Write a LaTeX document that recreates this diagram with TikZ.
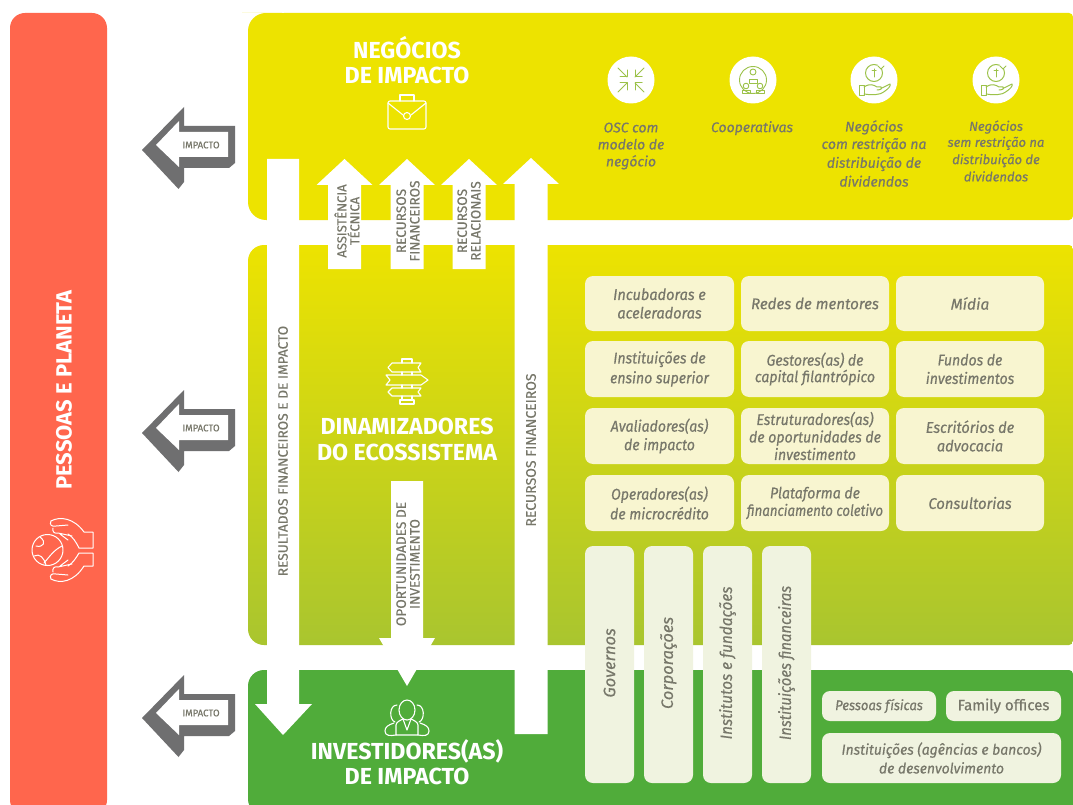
\documentclass[tikz,border=0pt]{standalone}
\usepackage{fontspec}
\usepackage{graphicx}
\setmainfont{Fira Sans}
\newfontfamily\cf{Fira Sans}[ItalicFeatures={FakeBold=0.5,FakeStretch=0.91}]
\newfontfamily\cg{Fira Sans}[ItalicFeatures={FakeBold=0.5},UprightFeatures={FakeBold=0.7}]
\newfontfamily\lbl{Fira Sans}[UprightFeatures={FakeBold=0.3}]
\usetikzlibrary{calc}
\definecolor{redp}{HTML}{FF664D}
\definecolor{yelp}{HTML}{EDE300}
\definecolor{midb}{HTML}{A9C52F}
\definecolor{grnp}{HTML}{50AC3A}
\definecolor{cella}{HTML}{F8F5D0}
\definecolor{cellb}{HTML}{F0F3E0}
\definecolor{txt}{HTML}{77776A}
\definecolor{arrowg}{HTML}{6F6F70}
\definecolor{icong}{HTML}{9CC24A}
\newcommand{\fs}[1]{\fontsize{#1}{#1}\selectfont}
\newcommand{\sq}[2]{\scalebox{#1}[1]{#2}}
\tikzset{
 x=1pt,y=-1pt,
 cell/.style={rounded corners=8pt,fill=cella},
 vcell/.style={rounded corners=8pt,fill=cellb},
 celltxt/.style={text=txt,align=center,font=\cf\fs{15.5}\itshape,inner sep=0pt},
 toptxt/.style={text=txt,align=center,inner sep=0pt},
 head/.style={text=white,align=center,inner sep=0pt,font=\fs{23.2}\bfseries},
 arrowtxt/.style={text=txt,align=center,inner sep=0pt,rotate=90},
 whiteicon/.style={draw=white,line width=1.1pt,line join=round,line cap=round},
 greenicon/.style={draw=icong,line width=1pt,line join=round,line cap=round},
}
\newcommand{\uparr}[3]{\fill[white] (#1,#2) -- ({#1+28},{#2+26}) -- ({#1+16.5},{#2+26}) -- ({#1+16.5},#3) -- ({#1-16.5},#3) -- ({#1-16.5},{#2+26}) -- ({#1-28},{#2+26}) -- cycle;}
\newcommand{\impact}[2]{%
 \begin{scope}[yshift=-#1pt]
  \fill[arrowg] (142,150) -- (184,107) -- (184,126) -- (235,126) -- (235,163) -- (229,168) -- (184,168) -- (184,182) -- (178.5,189) -- cycle;
  \fill[white] (156,145) -- (179,121) -- (179,132) -- (228,132) -- (228,157) -- (179,157) -- (179,167) -- cycle;
  \node[text=txt,inner sep=0pt,font=\lbl\fs{9.6}] (#2) at (201,145) {IMPACTO};
 \end{scope}}
\newcommand{\handcoin}[1]{%
 \begin{scope}[shift={(#1,80)}]
  \draw[greenicon] (0,-7) circle (8.5);
  \draw[white,line width=2.5pt] (4,-15) -- (8,-12);
  \draw[greenicon] (7,-11) -- (4,-14) (7,-11) -- (10,-14);
  \draw[greenicon] (0,-11) -- (0,-3) (-2,-9) -- (2,-9);
  \draw[greenicon] (-15,6) rectangle (-10,16);
  \draw[greenicon] (-10,7) .. controls (-4,3) and (0,5) .. (3,7) -- (7,7) .. controls (9,8) and (7,10) .. (3,10) (8,8) -- (16,4) .. controls (17,6) and (14,9) .. (11,11) .. controls (5,16) and (-3,15) .. (-10,14);
 \end{scope}}
\begin{document}
\begin{tikzpicture}
\useasboundingbox (0,0) rectangle (1073,805);
\clip (0,0) rectangle (1073,805);
\fill[white] (0,0) rectangle (1073,805);
% panels
\fill[redp,rounded corners=15pt] (10,13) rectangle (107,815);
\fill[yelp,rounded corners=18pt] (260,13) -- (248,13) -- (248,220) -- (300,220) -- (300,13) -- cycle;
\fill[yelp,rounded corners=4pt] (280,13) -- (1073,13) -- (1073,220) -- (280,220) -- cycle;
\shade[top color=yelp,bottom color=midb,rounded corners=16pt] (300,245) -- (248,245) -- (248,645) -- (300,645) -- cycle;
\shade[top color=yelp,bottom color=midb,rounded corners=4pt] (280,245) -- (1073,245) -- (1073,645) -- (280,645) -- cycle;
\fill[grnp,rounded corners=16pt] (300,670) -- (248,670) -- (248,815) -- (300,815) -- cycle;
\fill[grnp,rounded corners=4pt] (280,670) -- (1073,670) -- (1073,815) -- (280,815) -- cycle;
% block arrows
\fill[white] (267,159) -- (299,159) -- (299,704) -- (312,704) -- (283,735) -- (255,704) -- (267,704) -- cycle;
\uparr{531}{158}{734}
\uparr{344.5}{159}{269}
\uparr{407}{159}{269}
\uparr{469}{159}{269}
\fill[white] (391,481) -- (423,481) -- (423,638) -- (435,638) -- (407,686) -- (379,638) -- (391,638) -- cycle;
% impact arrows
\impact{0}{imp1}
\impact{283}{imp2}
\impact{568}{imp3}
% headers
\node[head] (neg) at (407,60.5) {NEGÓCIOS\\[2pt]DE IMPACTO};
\node[head] (din) at (407,439.5) {DINAMIZADORES\\[2pt]DO ECOSSISTEMA};
\node[head] (inv) at (407,762.5) {INVESTIDORES(AS)\\[2pt]DE IMPACTO};
\node[text=white,inner sep=0pt,rotate=90,font=\fs{22}\bfseries] (pp) at (64,390) {PESSOAS E PLANETA};
% arrow labels
\node[arrowtxt,font=\lbl\fs{13}] (a1) at (347,221) {ASSISTÊNCIA\\[0pt]TÉCNICA};
\node[arrowtxt,font=\lbl\fs{13.6}] (a2) at (408,221) {RECURSOS\\[0pt]FINANCEIROS};
\node[arrowtxt,font=\lbl\fs{13.6}] (a3) at (469,221) {RECURSOS\\[0pt]RELACIONAIS};
\node[arrowtxt,font=\lbl\fs{13.7}] (a4) at (283,451) {RESULTADOS FINANCEIROS E DE IMPACTO};
\node[arrowtxt,font=\lbl\fs{14}] (a5) at (531,450) {RECURSOS FINANCEIROS};
\node[arrowtxt,font=\lbl\fs{13.7}] (a6) at (408,564) {OPORTUNIDADES DE\\[0pt]INVESTIMENTO};
% top circles
\foreach \cx in {631,753,874,996} \fill[white] (\cx,80) circle (23.5);
\node[toptxt,font=\cg\fs{14}\itshape] (t1) at (631,146) {OSC com\\[3pt]modelo de\\[3pt]negócio};
\node[toptxt,font=\cg\fs{14}\itshape,anchor=north] (t2) at (752,121) {Cooperativas};
\node[toptxt,font=\cg\fs{14}\itshape] (t3) at (874,153.5) {Negócios\\[3.5pt]com restrição na\\[3.5pt]distribuição de\\[3.5pt]dividendos};
\node[toptxt,font=\cg\fs{13}\itshape] (t4) at (996,151) {Negócios\\[3pt]sem restrição na\\[3pt]distribuição de\\[3pt]dividendos};
% grid
\newcommand{\gcell}[6]{\fill[cell] (#1,#3) rectangle (#2,#4); \node[celltxt] (#5) at ({(#1+#2)/2},{(#3+#4)/2}) {#6};}
\gcell{585}{734}{276}{331}{c11}{\sq{1.03}{Incubadoras e}\\[3pt]\sq{1.03}{aceleradoras}}
\gcell{741}{889}{276}{331}{c12}{\sq{1.07}{Redes de mentores}}
\gcell{896}{1044}{276}{331}{c13}{\sq{1.1}{Mídia}}
\gcell{585}{734}{341}{397}{c21}{Instituições de\\[3pt]ensino superior}
\gcell{741}{889}{341}{397}{c22}{Gestores(as) de\\[1pt]capital filantrópico}
\gcell{896}{1044}{341}{397}{c23}{Fundos de\\[3pt]investimentos}
\gcell{585}{734}{408}{464}{c31}{Avaliadores(as)\\[3pt]de impacto}
\gcell{741}{889}{408}{464}{c32}{Estruturadores(as)\\[2pt]de oportunidades de\\[2pt]investimento}
\gcell{896}{1044}{408}{464}{c33}{\sq{1.03}{Escritórios de}\\[3pt]\sq{1.03}{advocacia}}
\gcell{585}{734}{475}{531}{c41}{Operadores(as)\\[3pt]de microcrédito}
\gcell{741}{889}{475}{531}{c42}{Plataforma de\\[2pt]\sq{.94}{financiamento coletivo}}
\gcell{896}{1044}{475}{531}{c43}{\sq{1.05}{Consultorias}}
% vertical cells
\newcommand{\vcellb}[5]{\fill[vcell] (#1,546) rectangle (#2,783); \node[toptxt,rotate=90,font=\cg\fs{16.5}\itshape] (#3) at ({(#1+#2)/2},663) {\sq{#4}{#5}};}
\vcellb{585}{634}{v1}{1}{Governos}
\vcellb{644}{693}{v2}{1}{Corporações}
\vcellb{703}{752}{v3}{.93}{Institutos e fundações}
\vcellb{762}{811}{v4}{.9}{Instituições financeiras}
\fill[vcell] (822,691) rectangle (936,721);
\node[toptxt,font=\cg\fs{14}\itshape] (p1) at (879,706) {\sq{.93}{Pessoas físicas}};
\fill[vcell] (946,691) rectangle (1061,721);
\node[toptxt,font=\cg\fs{15}] (p2) at (1003.5,706) {Family offices};
\fill[vcell] (822,733) rectangle (1061,783);
\node[toptxt,font=\cg\fs{14.5}\itshape] (p3) at (941.5,758) {\sq{.96}{Instituições (agências e bancos)}\\[3pt]\sq{.96}{de desenvolvimento}};
% briefcase
\draw[whiteicon] (388,101) [rounded corners=2pt] -- (426,101) -- (426,129) -- (388,129) -- cycle;
\draw[whiteicon] (400,101) -- (400,95) -- (414,95) -- (414,101);
\draw[whiteicon] (388,103) -- (403,115) (411,115) -- (426,103);
\draw[whiteicon] (407,116) circle (3.5);
% signpost
\begin{scope}[whiteicon]
 \draw (392,363) -- (421,363) -- (418,367.5) -- (421,372) -- (392,372) -- (388,367.5) -- cycle;
 \draw (386,375) -- (421,375) -- (428,380) -- (421,385) -- (386,385) -- (390,380) -- cycle;
 \draw (392,388) -- (421,388) -- (418,392) -- (421,396) -- (392,396) -- (388,392) -- cycle;
 \draw (402,363) -- (402,359) -- (412,359) -- (412,363);
 \draw (402,372) -- (402,375) (412,372) -- (412,375) (402,385) -- (402,388) (412,385) -- (412,388) (402,396) -- (402,400) (412,396) -- (412,400);
 \draw (400,400) rectangle (414,404);
\end{scope}
% people
\begin{scope}[whiteicon]
 \draw (407,710) ellipse (8 and 10);
 \draw (397,705) .. controls (389,705) and (389,720) .. (395,722);
 \draw (417,705) .. controls (425,705) and (425,720) .. (419,722);
 \draw (396,735) -- (396,725) .. controls (396,722) and (401,720) .. (403,719) -- (407,730) -- (411,719) .. controls (413,720) and (418,722) .. (418,725) -- (418,735) -- cycle;
 \draw (394,723) .. controls (388,725) and (385,727) .. (385,731) .. controls (385,736) and (390,736) .. (396,735);
 \draw (420,723) .. controls (426,725) and (429,727) .. (429,731) .. controls (429,736) and (424,736) .. (418,735);
\end{scope}
% hands and globe
\begin{scope}[whiteicon,line width=1pt]
 \draw (47.5,550) circle (15.5);
 \draw (40,537) .. controls (47,542) and (43,548) .. (36,546) (62,546) .. controls (54,550) and (50,556) .. (44,563) (34,556) .. controls (40,553) and (44,558) .. (46,565);
 \draw (51,521) .. controls (60,516) and (74,518) .. (84,532) -- (93,532) -- (93,548) -- (79,548) .. controls (76,542) and (73,537) .. (68,534);
 \draw (51,521) .. controls (49,525) and (52,527) .. (56,526) -- (68,525) (53,528) .. controls (52,532) and (55,534) .. (58,533) -- (72,536) (60,534) -- (68,540);
 \draw (51,579) .. controls (60,584) and (74,582) .. (84,566) -- (93,566) -- (93,553) -- (79,553) .. controls (76,558) and (73,563) .. (68,566);
 \draw (51,579) .. controls (49,575) and (52,573) .. (56,574) -- (68,575) (53,572) .. controls (52,568) and (55,566) .. (58,567) -- (72,564) (60,566) -- (68,560);
\end{scope}
% compress icon
\begin{scope}[shift={(631,80)},greenicon]
 \foreach \sx/\sy in {1/1,1/-1,-1/1,-1/-1}{
  \draw ({\sx*13},{\sy*12}) -- ({\sx*4},{\sy*3});
  \draw ({\sx*4},{\sy*10}) -- ({\sx*4},{\sy*3}) -- ({\sx*11},{\sy*3});
 }
\end{scope}
% cooperative icon
\begin{scope}[shift={(753,80)},greenicon,line width=.9pt]
 \draw (0,0) circle (13.5);
 \draw (0,-8) circle (3);
 \draw (-4,-1) rectangle (4,3);
 \draw (-7,6) circle (2.8) (7,6) circle (2.8);
 \draw (-11,10) rectangle (-3,13) (3,10) rectangle (11,13);
\end{scope}
\handcoin{874}
\handcoin{996}
\end{tikzpicture}
\end{document}
